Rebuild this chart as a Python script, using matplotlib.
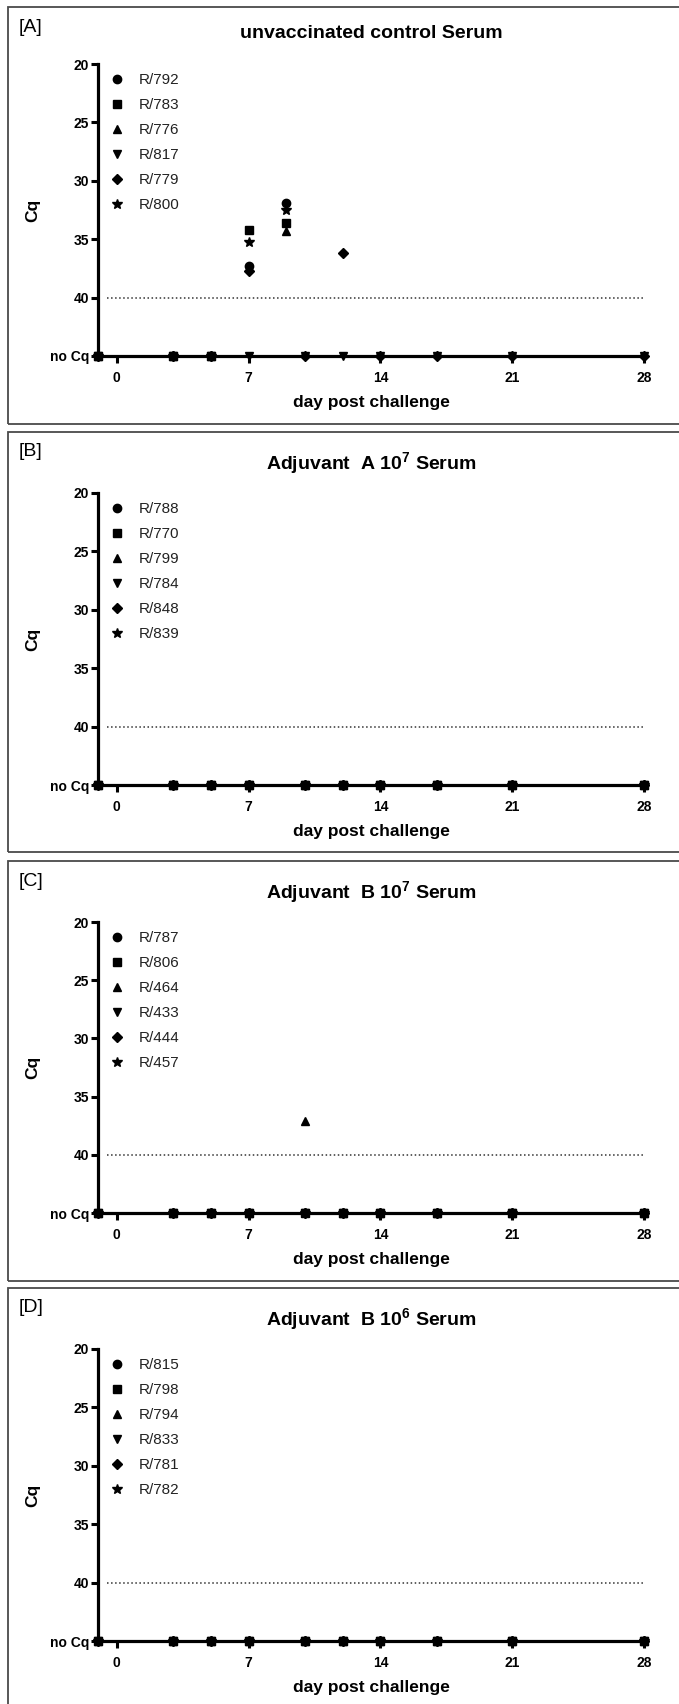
import numpy as np
import matplotlib
matplotlib.use('Agg')
import matplotlib.pyplot as plt
from matplotlib.patches import Rectangle

plt.rcParams['font.family'] = ['Liberation Sans', 'DejaVu Sans']
plt.rcParams['mathtext.fontset'] = 'custom'
plt.rcParams['mathtext.rm'] = 'Liberation Sans'
plt.rcParams['mathtext.bf'] = 'Liberation Sans:bold'

NOCQ = 45  # plotted position of "no Cq"
nan = np.nan

# ---- data ----
days_a = [-1, 3, 5, 7, 9, 10, 12, 14, 17, 21, 28]
days = [-1, 3, 5, 7, 10, 12, 14, 17, 21, 28]

titles = ['unvaccinated control Serum',
          r'Adjuvant  A $\mathbf{10^{7}}$ Serum',
          r'Adjuvant  B $\mathbf{10^{7}}$ Serum',
          r'Adjuvant  B $\mathbf{10^{6}}$ Serum']
panel_tags = ['[A]', '[B]', '[C]', '[D]']

labels_a = ['R/792', 'R/783', 'R/776', 'R/817', 'R/779', 'R/800']
labels_b = ['R/788', 'R/770', 'R/799', 'R/784', 'R/848', 'R/839']
labels_c = ['R/787', 'R/806', 'R/464', 'R/433', 'R/444', 'R/457']
labels_d = ['R/815', 'R/798', 'R/794', 'R/833', 'R/781', 'R/782']

values_a = [
    [45, 45, 45, 37.3, 31.9, nan, nan, nan, nan, nan, nan],
    [45, 45, 45, 34.2, 33.6, nan, nan, nan, nan, nan, nan],
    [45, 45, 45, nan, 34.3, nan, nan, nan, nan, nan, nan],
    [45, 45, 45, 45, nan, 45, 45, 45, 45, 45, 45],
    [45, 45, 45, 37.7, nan, 45, 36.2, 45, 45, 45, 45],
    [45, 45, 45, 35.2, 32.5, nan, nan, nan, nan, nan, nan],
]
values_b = [
    [45, 45, 45, 45, 45, 45, 45, 45, 45, 45],
    [45, 45, 45, 45, 45, 45, 45, 45, 45, 45],
    [45, 45, 45, 45, 45, 45, 45, 45, 45, 45],
    [45, 45, 45, 45, 45, 45, 45, 45, 45, 45],
    [45, 45, 45, 45, 45, 45, 45, 45, 45, 45],
    [45, 45, 45, 45, 45, 45, 45, 45, 45, 45],
]
values_c = [
    [45, 45, 45, 45, 45, 45, 45, 45, 45, 45],
    [45, 45, 45, 45, 45, 45, 45, 45, 45, 45],
    [45, 45, 45, 45, 37.1, 45, 45, 45, 45, 45],
    [45, 45, 45, 45, 45, 45, 45, 45, 45, 45],
    [45, 45, 45, 45, 45, 45, 45, 45, 45, 45],
    [45, 45, 45, 45, 45, 45, 45, 45, 45, 45],
]
values_d = [
    [45, 45, 45, 45, 45, 45, 45, 45, 45, 45],
    [45, 45, 45, 45, 45, 45, 45, 45, 45, 45],
    [45, 45, 45, 45, 45, 45, 45, 45, 45, 45],
    [45, 45, 45, 45, 45, 45, 45, 45, 45, 45],
    [45, 45, 45, 45, 45, 45, 45, 45, 45, 45],
    [45, 45, 45, 45, 45, 45, 45, 45, 45, 45],
]

y_ticks = [20, 25, 30, 35, 40, NOCQ]
y_ticklabels = ['20', '25', '30', '35', '40', 'no Cq']
x_ticks = [0, 7, 14, 21, 28]

markers = ['o', 's', '^', 'v', 'D', '*']
msizes = [6, 5.8, 5.5, 5.5, 5, 7.5]

# ---- layout (pixels) ----
W, H = 679, 1704
box_top = [7, 432, 861, 1288]
box_bot = [424, 852, 1281, 1730]
ax_top = [64, 493, 922, 1349]
ax_bot = [356, 785, 1213, 1641]
ax_left, ax_right = 98, 644

fig = plt.figure(figsize=(W / 100, H / 100), dpi=100)

panels = [(days_a, labels_a, values_a), (days, labels_b, values_b),
          (days, labels_c, values_c), (days, labels_d, values_d)]

for i, (x, labels, rows) in enumerate(panels):
    # panel frame
    fig.add_artist(Rectangle((8 / W, 1 - box_bot[i] / H), (W + 20 - 8) / W,
                             (box_bot[i] - box_top[i]) / H,
                             transform=fig.transFigure, fill=False,
                             edgecolor='#4a4a4a', lw=1.3))
    fig.text(19 / W, 1 - (box_top[i] + 20) / H, panel_tags[i],
             ha='left', va='center', fontsize=14)

    h = ax_bot[i] - ax_top[i]
    ax = fig.add_axes([ax_left / W, 1 - ax_bot[i] / H,
                       (ax_right - ax_left) / W, h / H])
    for lab, vals, m, ms in zip(labels, rows, markers, msizes):
        ax.plot(x, vals, ls='none', marker=m, ms=ms, color='black',
                label=lab, clip_on=False, zorder=3)

    ax.hlines(40, -0.5, 28, colors='#333333', linestyles=':', lw=1.1)

    ax.set_xlim(-1, 28)
    ax.set_ylim(NOCQ, 20)
    ax.set_xticks(x_ticks)
    ax.set_yticks(y_ticks)
    ax.set_yticklabels(y_ticklabels)
    for s in ['top', 'right']:
        ax.spines[s].set_visible(False)
    for s in ['left', 'bottom']:
        ax.spines[s].set_linewidth(2.3)
    ax.tick_params(axis='both', width=2.2, length=5, direction='out',
                   labelsize=10)
    ax.tick_params(axis='x', pad=5.5)
    ax.tick_params(axis='y', pad=1.5)
    for t in ax.get_xticklabels() + ax.get_yticklabels():
        t.set_fontweight('bold')

    ax.set_title(titles[i], fontsize=14, fontweight='bold',
                 y=1 + 30 / h, va='center', pad=0)
    ax.set_xlabel('day post challenge', fontsize=12.5, fontweight='bold')
    ax.xaxis.set_label_coords(0.5, -39 / h)
    ax.set_ylabel('Cq', fontsize=12.5, fontweight='bold')
    ax.yaxis.set_label_coords(-58 / (ax_right - ax_left), 0.5)

    ax.legend(loc='upper left', bbox_to_anchor=(0.024, 0.968),
              frameon=False, handlelength=0.8, handletextpad=1.0,
              labelspacing=0.72, borderpad=0, borderaxespad=0,
              fontsize=11, numpoints=1, labelcolor='#222222')

fig.savefig('out.png', dpi=100)
